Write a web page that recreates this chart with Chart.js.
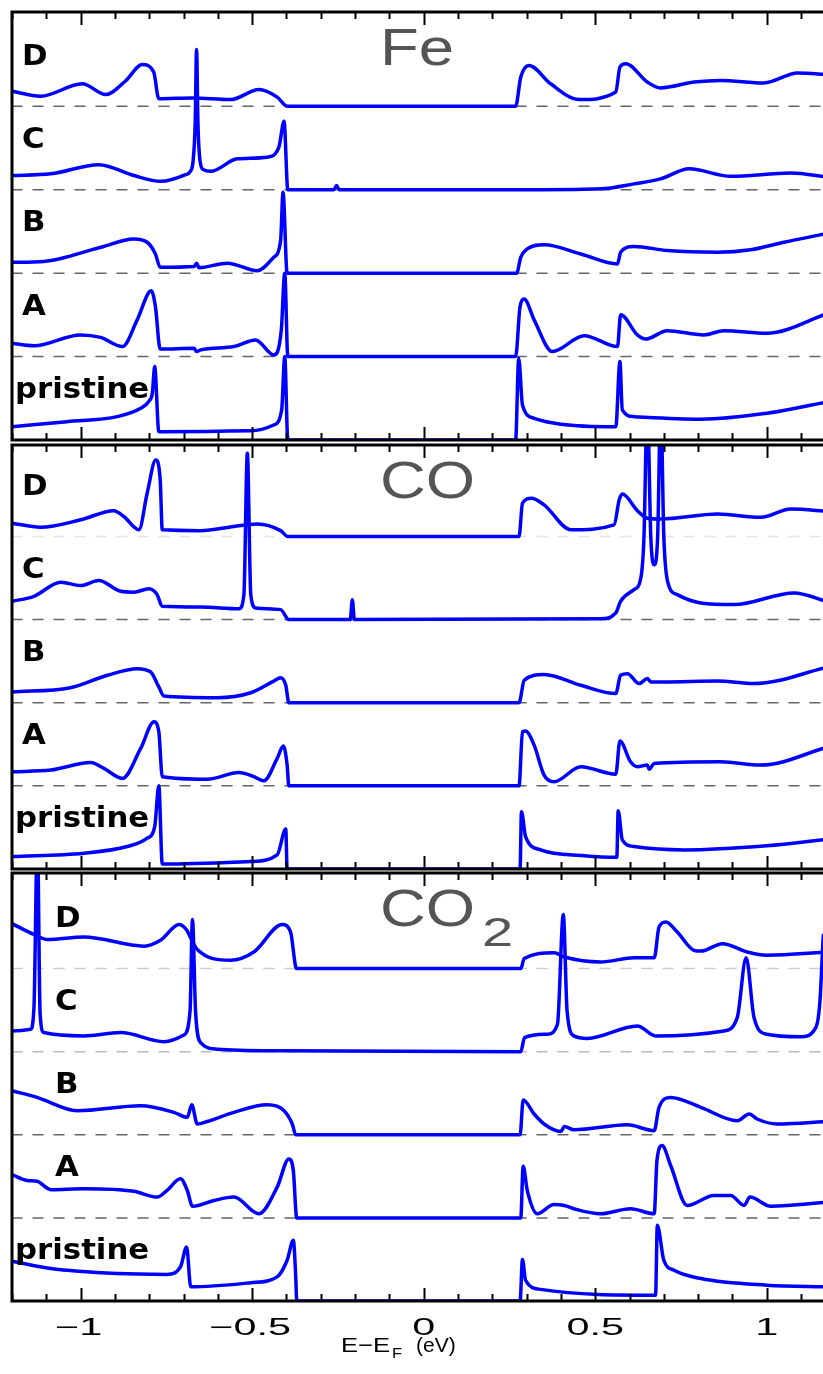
<!DOCTYPE html>
<html>
<head>
<meta charset="utf-8">
<title>DOS</title>
<script src="https://cdn.jsdelivr.net/npm/chart.js@4.4.1/dist/chart.umd.min.js"></script>
<style>
  html, body { margin: 0; padding: 0; background: #fff; width: 823px; height: 1374px; overflow: hidden; }
  canvas { position: absolute; left: 0; }
</style>
</head>
<body>
<canvas id="fe" width="823" height="442" style="top:0px"></canvas>
<canvas id="co" width="823" height="430" style="top:442px"></canvas>
<canvas id="co2" width="823" height="503" style="top:871px"></canvas>
<script>
// energy axis (eV, relative to E_F)
var energyRange = [-1.2, 1.164];
var tickValues = [-1, -0.5, 0, 0.5, 1];
var tickLabels = ['\u22121', '\u22120.5', '0', '0.5', '1'];
var curveNames = ['pristine', 'A', 'B', 'C', 'D'];
var panelTitles = ['Fe', 'CO', 'CO2'];

// DOS curves, [E, DOS] pairs; each curve is shifted up by its index in curveNames
var fePristine = [[-1.2,0.16],[-1.04,0.22],[-0.893,0.28],[-0.825,0.38],[-0.80,0.47],[-0.791,0.56],[-0.784,0.88],[-0.772,0.10],[-0.504,0.11],[-0.437,0.18],[-0.414,0.36],[-0.405,1.0],[-0.396,0],[0.268,0],[0.277,0.98],[0.288,0.42],[0.322,0.26],[0.40,0.19],[0.56,0.16],[0.572,0.94],[0.579,0.36],[0.613,0.28],[0.808,0.25],[1.0,0.32],[1.18,0.46]];
var feA = [[-1.2,0.16],[-1.136,0.13],[-1.0,0.26],[-0.942,0.23],[-0.878,0.12],[-0.835,0.44],[-0.794,0.79],[-0.782,0.60],[-0.768,0.09],[-0.669,0.10],[-0.662,0.06],[-0.65,0.08],[-0.553,0.12],[-0.49,0.20],[-0.437,0.02],[-0.415,0.32],[-0.405,1.0],[-0.396,0],[0.268,0],[0.281,0.60],[0.293,0.69],[0.322,0.44],[0.375,0.06],[0.468,0.25],[0.565,0.12],[0.574,0.50],[0.623,0.26],[0.647,0.21],[0.71,0.31],[0.817,0.26],[0.875,0.31],[1.0,0.28],[1.18,0.52]];
var feB = [[-1.2,0.13],[-1.107,0.14],[-0.941,0.31],[-0.845,0.41],[-0.806,0.37],[-0.782,0.23],[-0.768,0.07],[-0.669,0.08],[-0.662,0.12],[-0.655,0.065],[-0.572,0.12],[-0.485,0.03],[-0.437,0.19],[-0.417,0.39],[-0.41,0.97],[-0.398,0],[0.271,0],[0.283,0.19],[0.302,0.29],[0.351,0.34],[0.458,0.23],[0.565,0.11],[0.574,0.25],[0.613,0.32],[0.711,0.27],[0.857,0.25],[0.953,0.28],[1.05,0.37],[1.18,0.48]];
var feC = [[-1.2,0.17],[-1.087,0.19],[-0.947,0.30],[-0.845,0.17],[-0.767,0.10],[-0.694,0.18],[-0.68,0.22],[-0.672,0.35],[-0.666,0.8],[-0.662,1.68],[-0.658,0.8],[-0.652,0.35],[-0.642,0.24],[-0.621,0.22],[-0.543,0.37],[-0.456,0.39],[-0.422,0.51],[-0.407,0.82],[-0.396,0],[-0.262,0],[-0.254,0.05],[-0.246,0],[0.34,0],[0.516,0.01],[0.613,0.07],[0.69,0.13],[0.774,0.25],[0.895,0.16],[1.07,0.20],[1.18,0.15]];
var feD = [[-1.2,0.18],[-1.117,0.12],[-0.995,0.27],[-0.927,0.14],[-0.87,0.30],[-0.82,0.50],[-0.787,0.41],[-0.772,0.09],[-0.674,0.10],[-0.563,0.08],[-0.48,0.20],[-0.427,0.11],[-0.397,0],[0.268,0],[0.283,0.35],[0.307,0.49],[0.37,0.27],[0.453,0.08],[0.56,0.17],[0.572,0.47],[0.589,0.51],[0.652,0.29],[0.69,0.22],[0.788,0.29],[0.866,0.31],[0.992,0.28],[1.09,0.40],[1.18,0.38]];

var coPristine = [[-1.2,0.15],[-0.99,0.19],[-0.864,0.27],[-0.806,0.37],[-0.784,0.51],[-0.772,1.0],[-0.762,0.06],[-0.504,0.09],[-0.427,0.17],[-0.402,0.48],[-0.398,0],[0.281,0],[0.285,0.69],[0.297,0.39],[0.341,0.23],[0.468,0.16],[0.563,0.14],[0.567,0.70],[0.579,0.35],[0.613,0.27],[0.759,0.23],[1.0,0.28],[1.18,0.36]];
var coA = [[-1.2,0.17],[-1.087,0.19],[-0.971,0.28],[-0.932,0.21],[-0.878,0.09],[-0.825,0.45],[-0.786,0.77],[-0.772,0.65],[-0.762,0.11],[-0.631,0.08],[-0.538,0.16],[-0.495,0.11],[-0.466,0.06],[-0.427,0.33],[-0.409,0.48],[-0.398,0.25],[-0.393,0],[0.278,0],[0.288,0.65],[0.297,0.66],[0.322,0.49],[0.351,0.13],[0.38,0.05],[0.458,0.23],[0.56,0.14],[0.572,0.54],[0.603,0.29],[0.623,0.23],[0.652,0.25],[0.657,0.20],[0.672,0.27],[0.866,0.29],[0.983,0.25],[1.18,0.47]];
var coB = [[-1.2,0.13],[-1.03,0.18],[-0.922,0.33],[-0.835,0.41],[-0.796,0.37],[-0.772,0.19],[-0.757,0.08],[-0.602,0.06],[-0.504,0.12],[-0.437,0.26],[-0.417,0.30],[-0.402,0.21],[-0.393,0],[0.278,0],[0.293,0.27],[0.351,0.34],[0.458,0.21],[0.56,0.11],[0.574,0.33],[0.594,0.35],[0.628,0.23],[0.652,0.29],[0.662,0.25],[0.70,0.25],[0.857,0.26],[0.963,0.23],[1.18,0.43]];
var coC = [[-1.2,0.22],[-1.136,0.28],[-1.058,0.45],[-1.0,0.41],[-0.947,0.47],[-0.883,0.34],[-0.845,0.33],[-0.801,0.37],[-0.777,0.30],[-0.762,0.16],[-0.65,0.15],[-0.538,0.13],[-0.524,0.30],[-0.514,2.0],[-0.504,0.30],[-0.49,0.14],[-0.417,0.12],[-0.393,0],[-0.214,0],[-0.208,0.24],[-0.202,0],[0.516,0.01],[0.56,0.08],[0.574,0.22],[0.613,0.36],[0.633,0.50],[0.642,0.98],[0.652,2.6],[0.662,1.0],[0.672,0.66],[0.682,1.0],[0.691,2.6],[0.70,1.0],[0.711,0.46],[0.739,0.30],[0.808,0.20],[0.905,0.18],[1.08,0.32],[1.18,0.21]];
var coD = [[-1.2,0.16],[-1.117,0.11],[-1.0,0.20],[-0.903,0.31],[-0.874,0.24],[-0.83,0.08],[-0.806,0.52],[-0.781,0.92],[-0.768,0.68],[-0.762,0.08],[-0.65,0.07],[-0.553,0.12],[-0.485,0.15],[-0.417,0.07],[-0.396,0],[0.278,0],[0.288,0.40],[0.314,0.46],[0.351,0.38],[0.429,0.08],[0.555,0.14],[0.57,0.44],[0.579,0.51],[0.623,0.31],[0.652,0.22],[0.69,0.21],[0.857,0.27],[0.983,0.23],[1.07,0.33],[1.18,0.30]];

var co2Pristine = [[-1.2,0.48],[-1.087,0.39],[-0.893,0.33],[-0.748,0.32],[-0.709,0.41],[-0.691,0.65],[-0.679,0.17],[-0.504,0.22],[-0.427,0.29],[-0.398,0.49],[-0.38,0.73],[-0.373,0.3],[-0.37,0],[0.281,0],[0.288,0.50],[0.297,0.25],[0.341,0.14],[0.676,0.07],[0.681,0.91],[0.70,0.49],[0.73,0.37],[0.808,0.27],[1.0,0.19],[1.18,0.17]];
var co2A = [[-1.2,0.52],[-1.156,0.45],[-1.127,0.44],[-1.087,0.34],[-0.99,0.35],[-0.845,0.32],[-0.777,0.25],[-0.748,0.33],[-0.709,0.47],[-0.689,0.33],[-0.674,0.14],[-0.611,0.21],[-0.553,0.25],[-0.48,0.05],[-0.427,0.37],[-0.393,0.71],[-0.38,0.57],[-0.37,0],[0.283,0],[0.29,0.62],[0.302,0.33],[0.331,0.05],[0.38,0.16],[0.41,0.15],[0.438,0.11],[0.516,0.05],[0.603,0.11],[0.672,0.05],[0.68,0.69],[0.695,0.87],[0.72,0.63],[0.768,0.15],[0.846,0.27],[0.895,0.27],[0.934,0.15],[0.951,0.25],[1.012,0.14],[1.18,0.19]];
var co2B = [[-1.2,0.53],[-1.127,0.45],[-1.01,0.29],[-0.825,0.35],[-0.728,0.27],[-0.689,0.21],[-0.676,0.36],[-0.66,0.13],[-0.631,0.16],[-0.553,0.27],[-0.456,0.36],[-0.407,0.29],[-0.383,0.13],[-0.373,0],[0.281,0],[0.29,0.42],[0.322,0.25],[0.351,0.13],[0.40,0.04],[0.41,0.10],[0.438,0.06],[0.594,0.12],[0.672,0.05],[0.686,0.33],[0.72,0.45],[0.808,0.33],[0.914,0.17],[0.949,0.25],[0.972,0.19],[1.03,0.13],[1.18,0.16]];
var co2C = [[-1.2,0.25],[-1.146,0.27],[-1.136,0.53],[-1.126,2.6],[-1.118,0.45],[-1.107,0.23],[-0.99,0.19],[-0.883,0.23],[-0.757,0.12],[-0.699,0.20],[-0.681,0.49],[-0.674,1.59],[-0.665,0.49],[-0.65,0.11],[-0.602,0.03],[-0.407,0.01],[0.283,0],[0.294,0.17],[0.36,0.21],[0.39,0.33],[0.407,1.65],[0.418,0.49],[0.438,0.19],[0.477,0.16],[0.623,0.31],[0.676,0.19],[0.875,0.25],[0.914,0.41],[0.94,1.13],[0.963,0.41],[1.0,0.21],[1.099,0.18],[1.143,0.29],[1.155,0.6],[1.165,1.4],[1.18,2.0]];
var co2D = [[-1.2,0.54],[-1.136,0.41],[-1.097,0.35],[-0.99,0.38],[-0.815,0.27],[-0.767,0.34],[-0.713,0.53],[-0.694,0.48],[-0.66,0.23],[-0.563,0.10],[-0.495,0.20],[-0.412,0.53],[-0.388,0.44],[-0.373,0.02],[-0.369,0],[0.283,0],[0.293,0.12],[0.38,0.19],[0.41,0.14],[0.516,0.08],[0.613,0.13],[0.672,0.13],[0.686,0.50],[0.706,0.56],[0.739,0.44],[0.788,0.22],[0.808,0.21],[0.871,0.30],[0.943,0.20],[1.0,0.16],[1.18,0.20]];

var panelCurves = [
  [fePristine, feA, feB, feC, feD],
  [coPristine, coA, coB, coC, coD],
  [co2Pristine, co2A, co2B, co2C, co2D]
];
// top of each panel, in units of the curve spacing
var panelTop = [5.13, 5.10, 5.15];

// --- styling ---
var lineBlue = '#0000ff';
var baselineShades = [
  ['#666', '#666', '#666', '#666'],
  ['#666', '#666', '#666', '#e4e4e4'],
  ['#666', '#666', '#bbb', '#ccc']
];
var labelLeft = [22, 22, 55];

function stretchText(ctx, text, x, y, sx) {
  ctx.save();
  ctx.translate(x, y);
  ctx.scale(sx, 1);
  ctx.fillText(text, 0, 0);
  ctx.restore();
}

var panelDecor = {
  id: 'panelDecor',
  afterDatasetsDraw: function(chart, args, opts) {
    var ctx = chart.ctx, a = chart.chartArea;
    var x = chart.scales.x, y = chart.scales.y;
    ctx.save();

    // frame: left, top and bottom (right side lies past the page edge)
    ctx.strokeStyle = '#000';
    ctx.lineWidth = 3;
    ctx.beginPath();
    ctx.moveTo(chart.width, a.top);
    ctx.lineTo(a.left, a.top);
    ctx.lineTo(a.left, a.bottom);
    ctx.lineTo(chart.width, a.bottom);
    ctx.stroke();

    // inward ticks every 0.1 eV, longer at every 0.5 eV
    ctx.lineWidth = 2;
    ctx.beginPath();
    for (var i = -12; i <= 11; i++) {
      var px = Math.round(x.getPixelForValue(i / 10)) + 0.5;
      var len = (i % 5 === 0) ? 13 : 7;
      ctx.moveTo(px, a.top);
      ctx.lineTo(px, a.top + len);
      ctx.moveTo(px, a.bottom);
      ctx.lineTo(px, a.bottom - len);
    }
    ctx.stroke();

    // curve names
    ctx.fillStyle = '#000';
    ctx.font = 'bold 28px "DejaVu Sans"';
    ctx.textAlign = 'left';
    ctx.textBaseline = 'alphabetic';
    curveNames.forEach(function(name, k) {
      var left = name === 'pristine' ? 15 : opts.labelLeft;
      stretchText(ctx, name, left, y.getPixelForValue(k + 0.5), 1.1);
    });

    // adsorbate title
    ctx.fillStyle = '#555';
    ctx.font = '52px "Liberation Sans"';
    var tx = 380, ty = a.top + 53;
    if (opts.title === 'CO2') {
      stretchText(ctx, 'CO', tx, ty, 1.22);
      ctx.font = '40px "Liberation Sans"';
      stretchText(ctx, '2', tx + 102, ty + 20, 1.4);
    } else {
      stretchText(ctx, opts.title, tx, ty, 1.22);
    }

    // energy axis labels under the last panel
    if (opts.showAxis) {
      ctx.fillStyle = '#000';
      ctx.font = '23px "Liberation Sans"';
      ctx.textAlign = 'center';
      tickValues.forEach(function(v, k) {
        var off = tickLabels[k].charAt(0) === '\u2212' ? -2 : 0;
        stretchText(ctx, tickLabels[k], x.getPixelForValue(v) + off, a.bottom + 34, 1.8);
      });
      ctx.textAlign = 'left';
      var by = a.bottom + 51;
      ctx.font = '21px "Liberation Sans"';
      stretchText(ctx, 'E\u2212E', 341, by, 1.22);
      ctx.font = '15px "Liberation Sans"';
      stretchText(ctx, 'F', 392, by + 6, 1.1);
      ctx.font = '21px "Liberation Sans"';
      stretchText(ctx, '(eV)', 416, by, 1.0);
    }
    ctx.restore();
  }
};

function buildDatasets(p) {
  var sets = [];
  panelCurves[p].forEach(function(curve, k) {
    sets.push({
      data: curve.map(function(pt) { return { x: pt[0], y: pt[1] + k }; }),
      borderColor: lineBlue,
      borderWidth: 3.5,
      order: 0
    });
  });
  // dashed zero lines of the shifted curves
  for (var k = 1; k < curveNames.length; k++) {
    sets.push({
      data: [{ x: energyRange[0], y: k }, { x: energyRange[1], y: k }],
      borderColor: baselineShades[p][k - 1],
      borderWidth: 1.5,
      borderDash: [10, 11],
      cubicInterpolationMode: 'default',
      tension: 0,
      order: 1
    });
  }
  return sets;
}

var paddings = [
  { left: 12, right: 0, top: 12, bottom: 2 },
  { left: 12, right: 0, top: 3, bottom: 3 },
  { left: 12, right: 0, top: 2, bottom: 73 }
];

['fe', 'co', 'co2'].forEach(function(id, p) {
  new Chart(document.getElementById(id).getContext('2d'), {
    type: 'line',
    data: { datasets: buildDatasets(p) },
    options: {
      responsive: false,
      animation: false,
      events: [],
      layout: { padding: paddings[p] },
      elements: {
        point: { radius: 0 },
        line: { cubicInterpolationMode: 'monotone', borderCapStyle: 'round', borderJoinStyle: 'round' }
      },
      scales: {
        x: { type: 'linear', min: energyRange[0], max: energyRange[1], display: false },
        y: { type: 'linear', min: 0, max: panelTop[p], display: false }
      },
      plugins: {
        legend: { display: false },
        tooltip: { enabled: false },
        panelDecor: { title: panelTitles[p], labelLeft: labelLeft[p], showAxis: p === 2 }
      }
    },
    plugins: [panelDecor]
  });
});
</script>
</body>
</html>
